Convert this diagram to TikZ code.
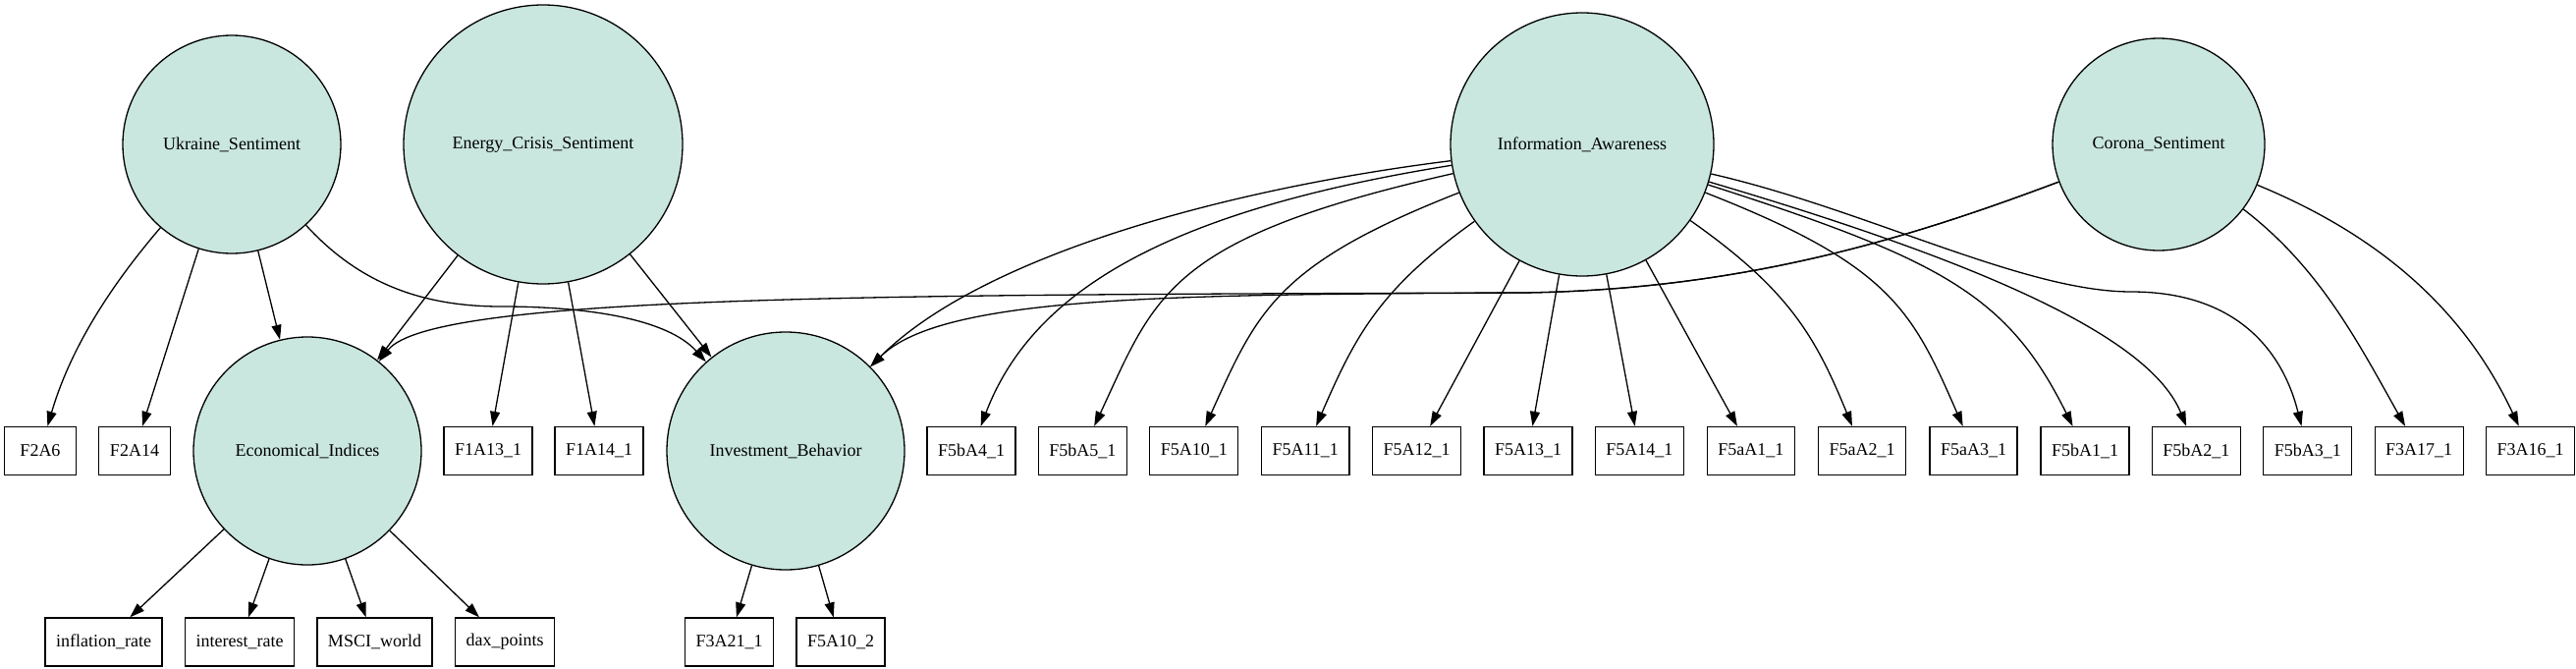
\documentclass[tikz,border=0pt]{standalone}
\usepackage{fontspec}
\setmainfont{Liberation Serif}
\usetikzlibrary{arrows.meta}
\definecolor{latentfill}{RGB}{201,230,223}

\begin{document}
\begin{tikzpicture}[x=0.5pt,y=0.5pt]
\tikzstyle{every node}+=[font=\fontsize{9}{11}\selectfont]
\tikzstyle{latent}=[circle,draw=black,fill=latentfill,line width=0.65pt,inner sep=0pt]
\tikzstyle{obs}=[rectangle,draw=black,line width=0.65pt,minimum width=36.5pt,minimum height=24.5pt,inner xsep=5.5pt,inner ysep=0pt]
\tikzstyle{edge}=[line width=0.65pt,-{Triangle[length=7.5pt,width=5pt]}]
\useasboundingbox (0,0) rectangle (2623,-680);
\node [latent,minimum size=111pt] (ukr) at (236,-147) {Ukraine\_Sentiment};
\node [latent,minimum size=142pt] (energy) at (553,-147) {Energy\_Crisis\_Sentiment};
\node [latent,minimum size=134pt] (info) at (1611,-147) {Information\_Awareness};
\node [latent,minimum size=108pt] (corona) at (2198,-147) {Corona\_Sentiment};
\node [latent,minimum size=116pt] (econ) at (313,-459) {Economical\_Indices};
\node [latent,minimum size=121pt] (invest) at (800,-459) {Investment\_Behavior};
\node [obs] (f2a6) at (41,-459) {F2A6};
\node [obs] (f2a14) at (137,-459) {F2A14};
\node [obs] (f1a13) at (497,-459) {F1A13\_1};
\node [obs] (f1a14) at (610,-459) {F1A14\_1};
\node [obs] (f5ba4) at (989,-459) {F5bA4\_1};
\node [obs] (f5ba5) at (1102.4,-459) {F5bA5\_1};
\node [obs] (f5a10) at (1215.8,-459) {F5A10\_1};
\node [obs] (f5a11) at (1329.2,-459) {F5A11\_1};
\node [obs] (f5a12) at (1442.6,-459) {F5A12\_1};
\node [obs] (f5a13) at (1556,-459) {F5A13\_1};
\node [obs] (f5a14) at (1669.4,-459) {F5A14\_1};
\node [obs] (f5aa1) at (1782.8,-459) {F5aA1\_1};
\node [obs] (f5aa2) at (1896.2,-459) {F5aA2\_1};
\node [obs] (f5aa3) at (2009.6,-459) {F5aA3\_1};
\node [obs] (f5ba1) at (2123,-459) {F5bA1\_1};
\node [obs] (f5ba2) at (2236.4,-459) {F5bA2\_1};
\node [obs] (f5ba3) at (2349.8,-459) {F5bA3\_1};
\node [obs] (f3a17) at (2463.2,-459) {F3A17\_1};
\node [obs] (f3a16) at (2576.6,-459) {F3A16\_1};
\node [obs] (infl) at (105.5,-653.5) {inflation\_rate};
\node [obs] (inter) at (244,-653.5) {interest\_rate};
\node [obs] (msci) at (381.5,-653.5) {MSCI\_world};
\node [obs] (dax) at (514,-653.5) {dax\_points};
\node [obs] (f3a21) at (742.5,-653.5) {F3A21\_1};
\node [obs] (f5a10b) at (856,-653.5) {F5A10\_2};
\draw [edge] (ukr) .. controls (110,-294) and (71,-357) .. (f2a6);
\draw [edge] (ukr) -- (f2a14);
\draw [edge] (ukr) -- (econ);
\draw [edge] (ukr) .. controls (360,-282) and (420,-312) .. (510,-312) .. controls (600,-312) and (680,-325) .. (invest);
\draw [edge] (energy) -- (econ);
\draw [edge] (energy) -- (f1a13);
\draw [edge] (energy) -- (f1a14);
\draw [edge] (energy) -- (invest);
\draw [edge] (econ) -- (infl);
\draw [edge] (econ) -- (inter);
\draw [edge] (econ) -- (msci);
\draw [edge] (econ) -- (dax);
\draw [edge] (invest) -- (f3a21);
\draw [edge] (invest) -- (f5a10b);
\draw [edge] (info) .. controls (1250,-192) and (1000,-260) .. (invest);
\draw [edge] (info) .. controls (1180,-216) and (1050,-300) .. (f5ba4);
\draw [edge] (info) .. controls (1187,-242.7) and (1176.5,-301) .. (f5ba5);
\draw [edge] (info) .. controls (1297.8,-269.7) and (1280,-318) .. (f5a10);
\draw [edge] (info) .. controls (1404,-294.8) and (1379.8,-342.4) .. (f5a11);
\draw [edge] (info) -- (f5a12);
\draw [edge] (info) -- (f5a13);
\draw [edge] (info) -- (f5a14);
\draw [edge] (info) -- (f5aa1);
\draw [edge] (info) .. controls (1820,-294) and (1848,-340.7) .. (f5aa2);
\draw [edge] (info) .. controls (1924,-269.5) and (1946.7,-314.6) .. (f5aa3);
\draw [edge] (info) .. controls (1978,-264.5) and (2044.6,-301) .. (f5ba1);
\draw [edge] (info) .. controls (2027.7,-269.9) and (2190,-345) .. (f5ba2);
\draw [edge] (info) .. controls (1900,-213) and (2060,-297) .. (2170,-297) .. controls (2280,-297) and (2325,-360) .. (f5ba3);
\draw [edge] (corona) .. controls (1950,-240) and (1780,-295) .. (1550,-298) .. controls (900,-300) and (440,-300) .. (econ);
\draw [edge] (corona) .. controls (1950,-240) and (1780,-295) .. (1550,-298) .. controls (1200,-300) and (960,-300) .. (invest);
\draw [edge] (corona) .. controls (2362,-272.4) and (2401,-348.4) .. (f3a17);
\draw [edge] (corona) .. controls (2437,-245.3) and (2514.6,-327) .. (f3a16);
\end{tikzpicture}
\end{document}
